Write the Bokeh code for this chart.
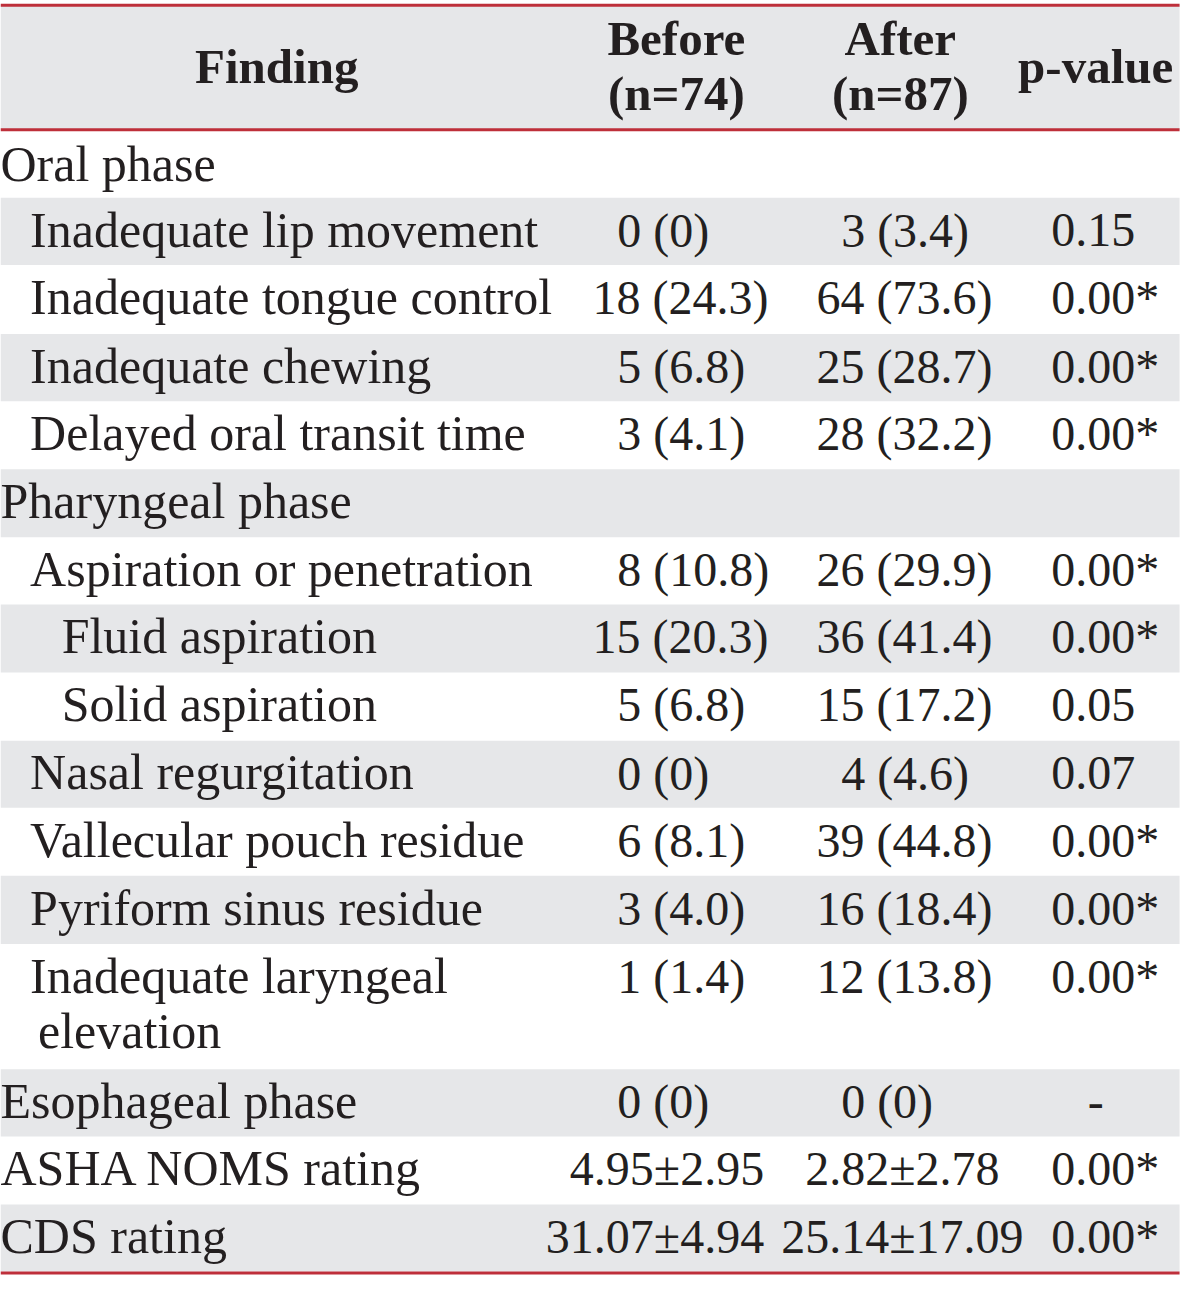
from bokeh.plotting import figure
from bokeh.models import Range1d, ColumnDataSource
from bokeh.core.properties import value
from bokeh.embed import file_html
from bokeh.resources import INLINE

# ---------------- data ----------------
header_titles = ["Finding", "Before", "After", "p-value"]
header_ns = ["", "(n=74)", "(n=87)", ""]

findings = ["Oral phase", "Inadequate lip movement", "Inadequate tongue control",
            "Inadequate chewing", "Delayed oral transit time", "Pharyngeal phase",
            "Aspiration or penetration", "Fluid aspiration", "Solid aspiration",
            "Nasal regurgitation", "Vallecular pouch residue", "Pyriform sinus residue",
            "Inadequate laryngeal\n elevation", "Esophageal phase", "ASHA NOMS rating",
            "CDS rating"]
levels = [0, 1, 1, 1, 1, 0, 1, 2, 2, 1, 1, 1, 1, 0, 0, 0]
before = ["", "0 (0)", "18 (24.3)", "5 (6.8)", "3 (4.1)", "", "8 (10.8)", "15 (20.3)",
          "5 (6.8)", "0 (0)", "6 (8.1)", "3 (4.0)", "1 (1.4)", "0 (0)", "4.95±2.95",
          "31.07±4.94"]
after = ["", "3 (3.4)", "64 (73.6)", "25 (28.7)", "28 (32.2)", "", "26 (29.9)", "36 (41.4)",
         "15 (17.2)", "4 (4.6)", "39 (44.8)", "16 (18.4)", "12 (13.8)", "0 (0)", "2.82±2.78",
         "25.14±17.09"]
pvalues = ["", "0.15", "0.00*", "0.00*", "0.00*", "", "0.00*", "0.00*", "0.05", "0.07",
           "0.00*", "0.00*", "0.00*", "-", "0.00*", "0.00*"]

# ---------------- layout ----------------
W, H = 1200, 1294
S = 1184 / 1200.0
row_tops = [133, 200, 268, 338, 406, 475, 544, 612, 681, 750, 818, 887, 956, 1083, 1151, 1220]
table_bottom = 1288
right_edge = 1195
GRAY = "#E6E7E9"
RED = "#BE2F3A"
INK = "#231F20"
FONT = "Liberation Serif"
BODY, NUM, HEAD = 51, 49, 50
fs_body = "%dpx" % round(BODY * S)
fs_num = "%dpx" % round(NUM * S)
fs_head = "%dpx" % round(HEAD * S)
digit_w = 25
K = 0.33  # baseline correction (fraction of font size)

p = figure(width=1184, height=1277, output_backend="svg", toolbar_location=None,
           x_range=Range1d(0, W), y_range=Range1d(H, 0), min_border=0)
p.axis.visible = False
p.grid.visible = False
p.outline_line_color = None
p.background_fill_color = "white"
p.border_fill_color = "white"

# header background
p.quad(left=[0], right=[right_edge], top=[5], bottom=[131], fill_color=GRAY, line_color=None)

# row stripes
bottoms = row_tops[1:] + [table_bottom]
stripe = dict(left=[], right=[], top=[], bottom=[])
for i, (t, b) in enumerate(zip(row_tops, bottoms)):
    if i % 2 == 1:
        stripe["left"].append(0)
        stripe["right"].append(right_edge)
        stripe["top"].append(t)
        stripe["bottom"].append(b)
p.quad(source=ColumnDataSource(stripe), left="left", right="right", top="top", bottom="bottom",
       fill_color=GRAY, line_color=None)

# red rules
for y in [4.7, 131, 1289.5]:
    p.segment(x0=[0], x1=[right_edge], y0=[y], y1=[y], line_color=RED, line_width=3)

# header text
hx = [280, 685, 912, 1110]
hk = K * HEAD
for i, (t, n) in enumerate(zip(header_titles, header_ns)):
    if n:
        p.text(x=[hx[i]], y=[55 - hk], text=[t], text_font=value(FONT), text_font_style="bold",
               text_font_size=fs_head, text_align="center", text_baseline="alphabetic",
               text_color=INK)
        p.text(x=[hx[i]], y=[111 - hk], text=[n], text_font=value(FONT), text_font_style="bold",
               text_font_size=fs_head, text_align="center", text_baseline="alphabetic",
               text_color=INK)
    else:
        p.text(x=[hx[i]], y=[83 - hk], text=[t], text_font=value(FONT), text_font_style="bold",
               text_font_size=fs_head, text_align="center", text_baseline="alphabetic",
               text_color=INK)

# body text
indent = {0: 0, 1: 30, 2: 62}
lab = dict(x=[], y=[], text=[])
num_left = dict(x=[], y=[], text=[])
num_right = dict(x=[], y=[], text=[])
num_center = dict(x=[], y=[], text=[])
for i, t in enumerate(row_tops):
    base = t + 34 + 15
    lines = findings[i].split("\n")
    for k, ln in enumerate(lines):
        extra = 8 if k > 0 else 0
        lab["x"].append(indent[levels[i]] + extra)
        lab["y"].append(base + 56 * k - K * BODY)
        lab["text"].append(ln.strip())
    nb = base - K * NUM
    for col_txt, single_x in ((before[i], 625), (after[i], 852)):
        if not col_txt:
            continue
        if "(" in col_txt:
            nd = len(col_txt.split(" ")[0])
            num_left["x"].append(single_x - (nd - 1) * digit_w)
            num_left["y"].append(nb)
            num_left["text"].append(col_txt)
        elif single_x == 625:
            num_right["x"].append(774)
            num_right["y"].append(nb)
            num_right["text"].append(col_txt)
        else:
            num_center["x"].append(914)
            num_center["y"].append(nb)
            num_center["text"].append(col_txt)
    pv = pvalues[i]
    if pv == "-":
        num_center["x"].append(1110)
        num_center["y"].append(nb)
        num_center["text"].append(pv)
    elif pv:
        num_left["x"].append(1065)
        num_left["y"].append(nb)
        num_left["text"].append(pv)

p.text(source=ColumnDataSource(lab), x="x", y="y", text="text", text_font=value(FONT),
       text_font_size=fs_body, text_align="left", text_baseline="alphabetic", text_color=INK)
p.text(source=ColumnDataSource(num_left), x="x", y="y", text="text", text_font=value(FONT),
       text_font_size=fs_num, text_align="left", text_baseline="alphabetic", text_color=INK)
p.text(source=ColumnDataSource(num_right), x="x", y="y", text="text", text_font=value(FONT),
       text_font_size=fs_num, text_align="right", text_baseline="alphabetic", text_color=INK)
p.text(source=ColumnDataSource(num_center), x="x", y="y", text="text", text_font=value(FONT),
       text_font_size=fs_num, text_align="center", text_baseline="alphabetic", text_color=INK)

open("out.html", "w").write(file_html(p, INLINE))
